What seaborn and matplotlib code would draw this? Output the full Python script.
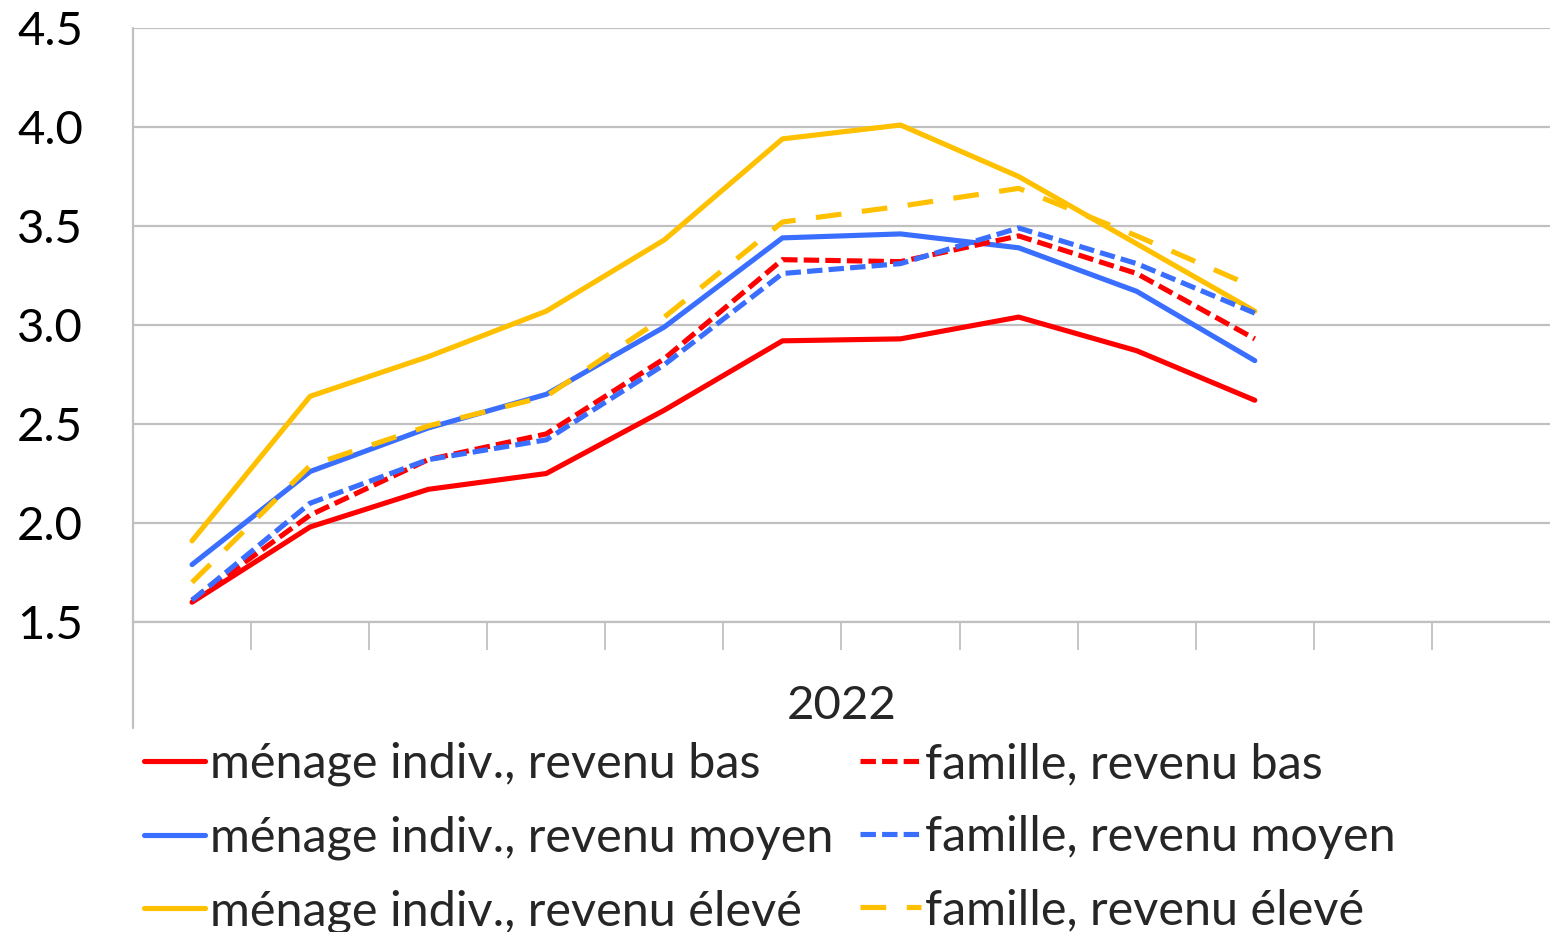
import pandas as pd
import seaborn as sns
import matplotlib.pyplot as plt

# monthly values, 2022 (Jan..Oct, 12 category slots on the axis)
months = list(range(10))
n_slots = 12
menage_bas = [1.60, 1.98, 2.17, 2.25, 2.57, 2.92, 2.93, 3.04, 2.87, 2.62]
menage_moyen = [1.79, 2.26, 2.48, 2.65, 2.99, 3.44, 3.46, 3.39, 3.17, 2.82]
menage_eleve = [1.91, 2.64, 2.84, 3.07, 3.43, 3.94, 4.01, 3.75, 3.41, 3.07]
famille_bas = [1.61, 2.04, 2.32, 2.45, 2.83, 3.33, 3.32, 3.45, 3.26, 2.93]
famille_moyen = [1.61, 2.10, 2.32, 2.42, 2.80, 3.26, 3.31, 3.49, 3.31, 3.06]
famille_eleve = [1.70, 2.29, 2.49, 2.64, 3.04, 3.52, 3.60, 3.69, 3.45, 3.19]

labels = ["ménage indiv., revenu bas", "ménage indiv., revenu moyen",
          "ménage indiv., revenu élevé", "famille, revenu bas",
          "famille, revenu moyen", "famille, revenu élevé"]
series = [menage_bas, menage_moyen, menage_eleve, famille_bas, famille_moyen, famille_eleve]
colors = ["#FF0000", "#3A6EFF", "#FFC000", "#FF0000", "#3A6EFF", "#FFC000"]
dash_styles = ["", "", "", (3, 1.2), (3, 1.2), (5, 4)]

rows = []
for name, vals in zip(labels, series):
    for m, v in zip(months, vals):
        rows.append({"month": m, "value": v, "serie": name})
df = pd.DataFrame(rows)

sns.set_style("white")
plt.rcParams['font.family'] = ['Lato', 'DejaVu Sans']

fig = plt.figure(figsize=(15.5, 9.32), dpi=100)
ax = fig.add_axes([133 / 1550, 1 - 622 / 932, 1 - 133 / 1550, (622 - 28) / 932])

sns.lineplot(data=df, x="month", y="value", hue="serie", style="serie",
             hue_order=labels, style_order=labels,
             palette=dict(zip(labels, colors)), dashes=dict(zip(labels, dash_styles)),
             linewidth=3.7, legend=False, ax=ax)

grid_col = "#C0C0C0"
ax.set_ylim(1.5, 4.5)
ax.set_xlim(-0.5, n_slots - 0.5)
ax.set_yticks([1.5, 2.0, 2.5, 3.0, 3.5, 4.0, 4.5])
ax.set_yticklabels(["1.5", "2.0", "2.5", "3.0", "3.5", "4.0", "4.5"])
ax.yaxis.grid(True, color=grid_col, linewidth=1.6)
ax.set_axisbelow(True)
ax.tick_params(axis="y", left=False, length=0, labelsize=34, pad=36, labelcolor="black")
for lab in ax.get_yticklabels():
    lab.set_horizontalalignment("right")

ax.set_xticks([k + 0.5 for k in range(n_slots - 1)])
ax.set_xticklabels([])
ax.tick_params(axis="x", bottom=True, length=20, width=1.3, color=grid_col, direction="out")
ax.set_xlabel("2022", fontsize=34, labelpad=22)
ax.set_ylabel("")

for side in ["top", "right"]:
    ax.spines[side].set_visible(False)
ax.spines["bottom"].set_color(grid_col)
ax.spines["bottom"].set_linewidth(1.6)
ax.spines["left"].set_visible(False)
ax.axvline(-0.5, ymin=-0.178, ymax=1, color=grid_col, linewidth=1.6, clip_on=False)

handles = ax.get_lines()[:len(labels)]
fig.legend(handles, labels, loc="upper left", bbox_to_anchor=(144 / 1550, 1 - 742 / 932),
           ncol=2, frameon=False, fontsize=35, handlelength=1.25, handletextpad=0.1,
           columnspacing=0.55, labelspacing=0.6, borderaxespad=0, borderpad=0)

plt.savefig("out.png", dpi=100)
plt.close()
